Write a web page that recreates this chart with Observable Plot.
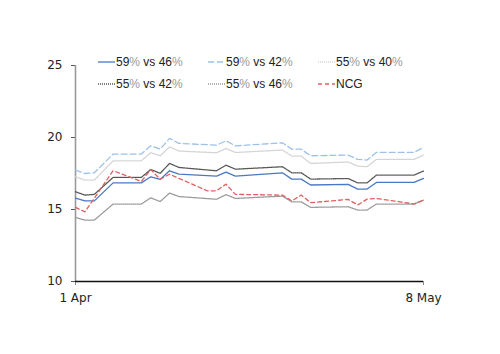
<!DOCTYPE html>
<html>
<head>
<meta charset="utf-8">
<script src="https://cdn.jsdelivr.net/npm/d3@7"></script>
<script src="https://cdn.jsdelivr.net/npm/@observablehq/plot@0.6"></script>
<style>
  html, body { margin: 0; padding: 0; background: #fff; }
  #chart { width: 500px; height: 354px; }
</style>
</head>
<body>
<div id="chart"></div>
<script>
// Dates (vertex dates shared by the five scenario series)
const dates = ["2010-04-01","2010-04-02","2010-04-03","2010-04-05","2010-04-08","2010-04-09","2010-04-10","2010-04-11","2010-04-12","2010-04-16","2010-04-17","2010-04-18","2010-04-23","2010-04-24","2010-04-25","2010-04-26","2010-04-30","2010-05-01","2010-05-02","2010-05-03","2010-05-07","2010-05-08"];
const s59v46 = [15.79,15.6,15.6,16.85,16.85,17.27,17.09,17.69,17.46,17.32,17.6,17.32,17.55,17.11,17.11,16.7,16.74,16.42,16.42,16.88,16.88,17.16];
const s59v42 = [17.74,17.5,17.55,18.85,18.85,19.42,19.19,19.94,19.59,19.47,19.77,19.42,19.63,19.19,19.19,18.73,18.78,18.48,18.43,18.97,18.97,19.31];
const s55v40 = [17.27,17.04,17.04,18.38,18.38,18.95,18.73,19.35,19.06,18.94,19.24,18.96,19.13,18.71,18.71,18.2,18.3,18.01,17.97,18.48,18.48,18.78];
const s55v42 = [16.23,16.0,16.05,17.23,17.23,17.78,17.51,18.2,17.92,17.69,18.08,17.8,17.97,17.55,17.55,17.11,17.15,16.85,16.85,17.39,17.39,17.67];
const s55v46 = [14.45,14.26,14.26,15.38,15.38,15.81,15.55,16.14,15.9,15.71,16.03,15.77,15.93,15.53,15.53,15.15,15.19,14.96,14.96,15.38,15.38,15.65];
// NCG series has its own vertex dates
const ncgDates = ["2010-04-01","2010-04-02","2010-04-05","2010-04-08","2010-04-09","2010-04-10","2010-04-11","2010-04-15","2010-04-16","2010-04-17","2010-04-18","2010-04-23","2010-04-24","2010-04-25","2010-04-26","2010-04-30","2010-05-01","2010-05-02","2010-05-03","2010-05-07","2010-05-08"];
const ncg = [15.15,14.84,17.69,16.95,17.78,17.1,17.45,16.3,16.3,16.76,16.05,16.0,15.6,16.0,15.47,15.7,15.31,15.72,15.77,15.38,15.65];

const seriesNames = ["59% vs 46%","59% vs 42%","55% vs 40%","55% vs 42%","55% vs 46%","NCG"];
const seriesColors = ["#4a78c6","#9cc2ea","#d4d4d4","#555555","#999999","#e06060"];
const seriesDash = [null,"6,3","1,1","1,1","1,1","4,3"];
const yTicks = [10,15,20,25];
const xTickDates = ["2010-04-01","2010-05-08"];

const parse = d3.utcParse("%Y-%m-%d");
const allValues = [s59v46, s59v42, s55v40, s55v42, s55v46];
const rows = [];
allValues.forEach((vals, i) => vals.forEach((v, j) => rows.push({date: parse(dates[j]), value: v, series: seriesNames[i]})));
ncg.forEach((v, j) => rows.push({date: parse(ncgDates[j]), value: v, series: "NCG"}));

const x0 = parse(xTickDates[0]), x1 = parse(xTickDates[1]);

const lineMarks = seriesNames.map((name, i) => Plot.line(rows.filter(r => r.series === name), {
  x: "date", y: "value", stroke: seriesColors[i], strokeWidth: 1.3,
  strokeDasharray: seriesDash[i] || undefined
}));

const chart = Plot.plot({
  width: 500, height: 354,
  marginLeft: 75, marginRight: 77, marginTop: 65, marginBottom: 73,
  style: {fontFamily: "'DejaVu Sans', sans-serif", fontSize: "12px", color: "#222", background: "#fff"},
  x: {type: "utc", domain: [x0, x1]},
  y: {domain: [10, 25]},
  marks: [
    Plot.axisY({ticks: yTicks, tickSize: 4, tickPadding: 9, label: null, stroke: "#555"}),
    Plot.axisX({ticks: [x0, x1], tickFormat: d3.utcFormat("%-d %b"), tickSize: 4, tickPadding: 8, label: null, stroke: "#888"}),
    Plot.ruleX([x0], {stroke: "#999", strokeWidth: 1.6}),
    Plot.ruleY([10], {stroke: "#111", strokeWidth: 1.3}),
    ...lineMarks
  ]
});
document.getElementById("chart").appendChild(chart);

// Legend (two rows, three columns) inside the SVG
const svg = d3.select(chart);
const leg = svg.append("g").attr("font-family", "'Liberation Sans', Arial, sans-serif").attr("font-size", 12)
  .attr("fill", "#222").attr("text-anchor", "start");
const colX = [98, 208, 318];
const rowY = [62, 84];
seriesNames.forEach((name, i) => {
  const cx = colX[i % 3], cy = rowY[Math.floor(i / 3)];
  const g = leg.append("g");
  g.append("line").attr("x1", cx).attr("x2", cx + 17).attr("y1", cy).attr("y2", cy)
    .attr("stroke", seriesColors[i]).attr("stroke-width", 1.3)
    .attr("stroke-dasharray", seriesDash[i] || null);
  const t = g.append("text").attr("x", cx + 18).attr("y", cy).attr("dy", "0.35em").attr("text-anchor", "start");
  name.split(/(%)/).forEach(part => {
    if (!part) return;
    t.append("tspan").attr("fill", part === "%" ? "#999" : "#222").text(part);
  });
});
</script>
</body>
</html>
